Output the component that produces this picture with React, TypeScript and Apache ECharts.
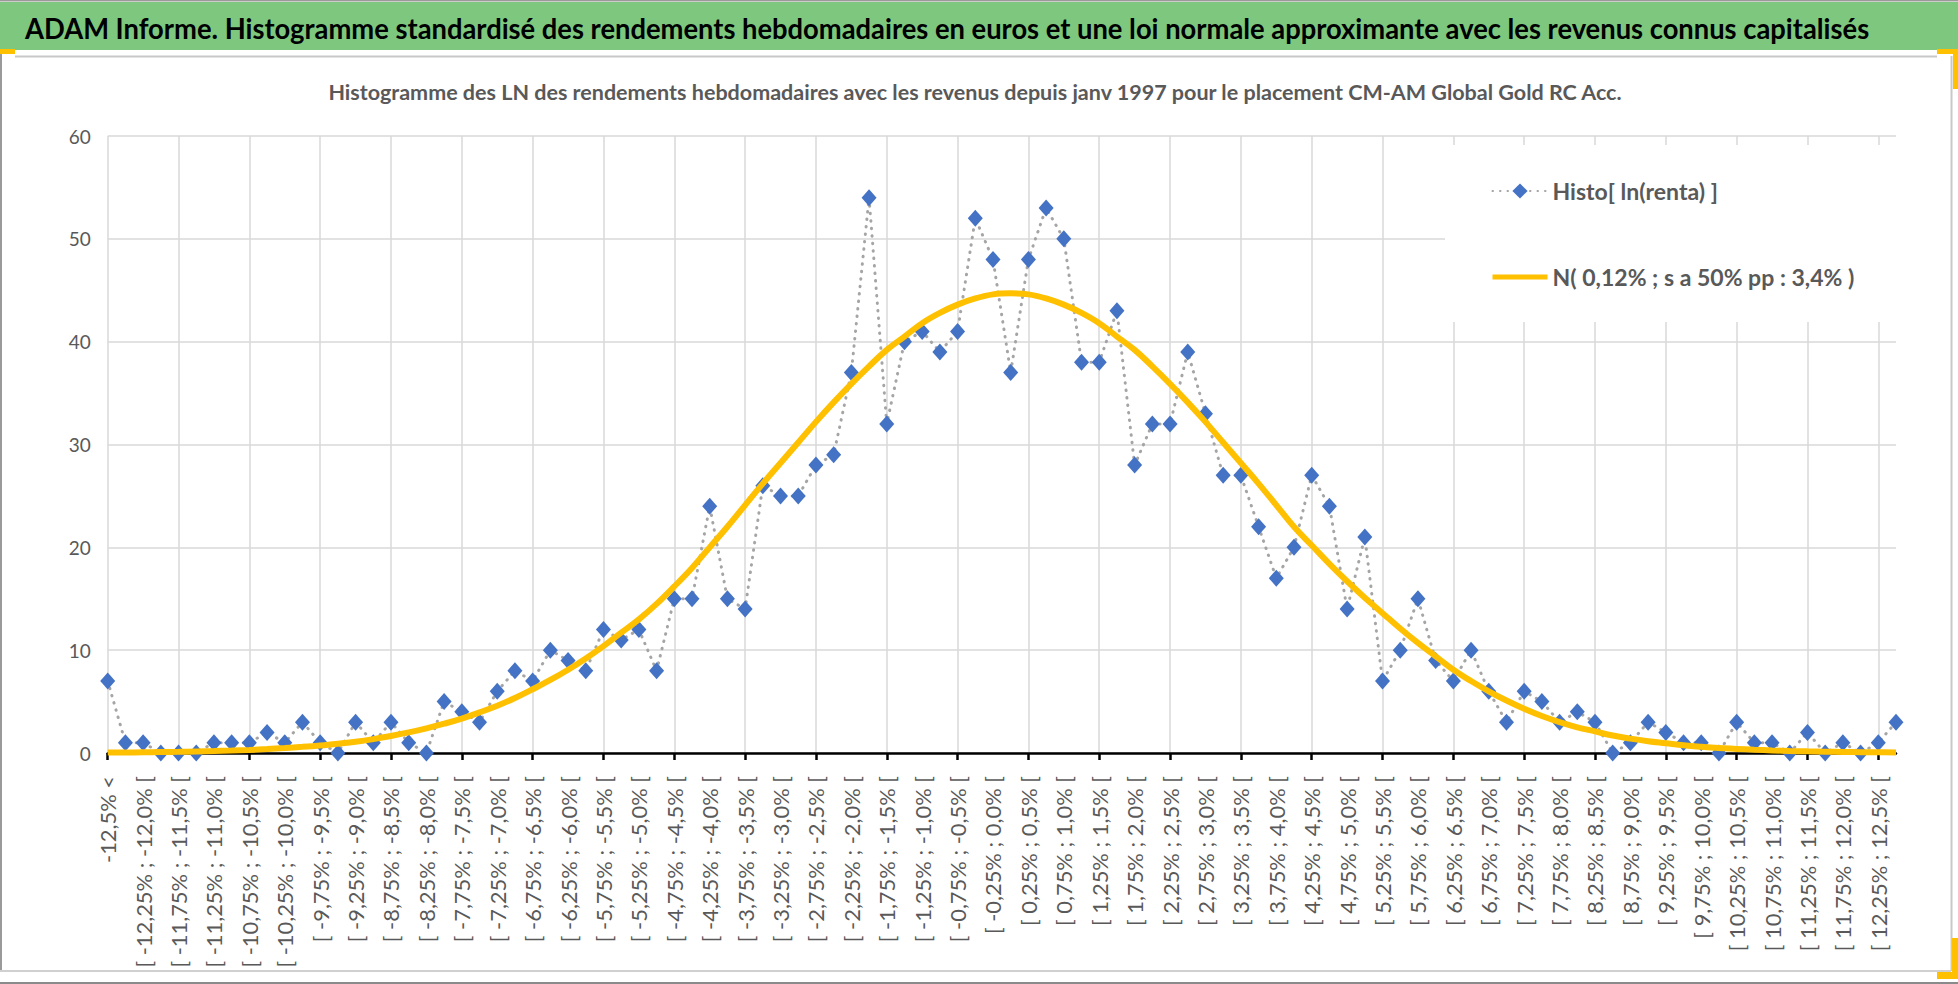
import React, { useEffect, useRef } from 'react';
import * as echarts from 'echarts';

const CHART_TITLE =
  'ADAM Informe. Histogramme standardisé des rendements hebdomadaires en euros et une loi normale approximante avec les revenus connus capitalisés';
const SUBTITLE =
  'Histogramme des LN des rendements hebdomadaires avec les revenus depuis janv 1997 pour le placement CM-AM Global Gold RC Acc.';
const SERIES_HISTO = 'Histo[ ln(renta) ]';
const SERIES_NORMAL = 'N( 0,12% ; s a 50% pp : 3,4% )';

// bins: lower bounds in hundredths of a percent
const BIN_FIRST_LOWER = -1250;
const BIN_STEP = 25;
const BIN_COUNT = 100;
const FIRST_LABEL = '-12,5% <';
const LAST_LABEL = '12,5% <=';

const Y_MIN = 0;
const Y_MAX = 60;
const Y_STEP = 10;

const HISTO_COUNTS = [
  7, 1, 1, 0, 0, 0, 1, 1, 1, 2,
  1, 3, 1, 0, 3, 1, 3, 1, 0, 5,
  4, 3, 6, 8, 7, 10, 9, 8, 12, 11,
  12, 8, 15, 15, 24, 15, 14, 26, 25, 25,
  28, 29, 37, 54, 32, 40, 41, 39, 41, 52,
  48, 37, 48, 53, 50, 38, 38, 43, 28, 32,
  32, 39, 33, 27, 27, 22, 17, 20, 27, 24,
  14, 21, 7, 10, 15, 9, 7, 10, 6, 3,
  6, 5, 3, 4, 3, 0, 1, 3, 2, 1,
  1, 0, 3, 1, 1, 0, 2, 0, 1, 0,
  1, 3,
];

const NORMAL_CURVE = [
  0.04, 0.05, 0.07, 0.09, 0.11, 0.15, 0.19, 0.24, 0.3, 0.38,
  0.48, 0.6, 0.74, 0.91, 1.1, 1.35, 1.65, 2.0, 2.4, 2.85,
  3.35, 3.95, 4.6, 5.35, 6.2, 7.1, 8.1, 9.2, 10.4, 11.7,
  13.0, 14.5, 16.2, 18.0, 20.0, 22.0, 24.1, 26.2, 28.2, 30.2,
  32.2, 34.1, 35.9, 37.6, 39.2, 40.5, 41.8, 42.8, 43.6, 44.2,
  44.6, 44.7, 44.6, 44.2, 43.6, 42.8, 41.8, 40.5, 39.2, 37.6,
  35.9, 34.1, 32.2, 30.2, 28.2, 26.2, 24.1, 22.0, 20.2, 18.4,
  16.7, 15.1, 13.6, 12.1, 10.7, 9.4, 8.1, 7.0, 6.0, 5.1,
  4.3, 3.6, 3.0, 2.5, 2.1, 1.7, 1.4, 1.15, 0.95, 0.75,
  0.6, 0.48, 0.4, 0.32, 0.25, 0.2, 0.16, 0.13, 0.1, 0.08,
  0.07, 0.06,
];

function fmtPct(h: number): string {
  let s = (h / 100).toFixed(2);
  if (s.endsWith('0')) s = s.slice(0, -1);
  return s.replace('.', ',') + '%';
}

function buildCategories(): string[] {
  const cats: string[] = [FIRST_LABEL];
  for (let k = 0; k < BIN_COUNT; k++) {
    const lo = BIN_FIRST_LOWER + BIN_STEP * k;
    const hi = lo + BIN_STEP;
    cats.push(`[ ${fmtPct(lo)} ; ${fmtPct(hi)} [`);
  }
  cats.push(LAST_LABEL);
  return cats;
}

const FONT = 'Lato, "Noto Sans", sans-serif';

function textWidth(text: string, font: string): number {
  const c = document.createElement('canvas').getContext('2d');
  if (!c) return 1;
  c.font = font;
  return c.measureText(text).width || 1;
}

export default function App() {
  const ref = useRef<HTMLDivElement>(null);

  useEffect(() => {
    if (!ref.current) return;
    const chart = echarts.init(ref.current, null, { renderer: 'svg' });

    const titleSize = 29;
    const titleScale = 1845 / textWidth(CHART_TITLE, `bold ${titleSize}px Lato`);
    const subSize = 21;
    const subScale = 1296 / textWidth(SUBTITLE, `bold ${subSize}px Lato`);
    const legendSize = Math.min(30, (28 * 302) / textWidth(SERIES_NORMAL, 'bold 28px Lato'));
    const xLabSize = Math.min(22, (20 * 150) / textWidth('[ 0,25% ; 0,5% [', '20px Lato'));

    const categories = buildCategories();

    const option: any = {
      animation: false,
      backgroundColor: '#ffffff',
      grid: { left: 107.7, right: 62, top: 136, bottom: 231, containLabel: false },
      legend: {
        orient: 'vertical',
        left: 1490,
        top: 176,
        itemWidth: 55,
        itemHeight: 19,
        itemGap: 56,
        padding: 0,
        z: 5,
        textStyle: {
          color: '#595959',
          fontWeight: 'bold',
          fontFamily: FONT,
          fontSize: legendSize,
          lineHeight: 30,
        },
        data: [
          { name: SERIES_HISTO },
          {
            name: SERIES_NORMAL,
            itemStyle: { color: 'rgba(0,0,0,0)', borderColor: 'rgba(0,0,0,0)', borderWidth: 0 },
            lineStyle: { color: '#FFC000', width: 5 },
          },
        ],
      },
      xAxis: {
        type: 'category',
        data: categories,
        boundaryGap: false,
        axisLine: { show: true, lineStyle: { color: '#000000', width: 2.5 } },
        axisTick: { show: true, interval: 3, length: 7, lineStyle: { color: '#000000', width: 2.5 } },
        axisLabel: {
          interval: 1,
          rotate: 90,
          margin: 23,
          color: '#595959',
          fontFamily: FONT,
          fontSize: xLabSize,
        },
        splitLine: { show: true, interval: 3, lineStyle: { color: '#d9d9d9', width: 1.5 } },
      },
      yAxis: {
        type: 'value',
        min: Y_MIN,
        max: Y_MAX,
        interval: Y_STEP,
        axisLine: { show: false },
        axisTick: { show: false },
        axisLabel: { color: '#595959', fontFamily: FONT, fontSize: 19, margin: 17 },
        splitLine: { show: true, lineStyle: { color: '#d9d9d9', width: 1.5 } },
      },
      series: [
        {
          name: SERIES_HISTO,
          type: 'line',
          data: HISTO_COUNTS,
          symbol: 'diamond',
          symbolSize: [15, 17],
          showAllSymbol: true,
          itemStyle: { color: '#4472C4' },
          lineStyle: { color: '#a5a5a5', width: 3, type: [0.5, 7], cap: 'round' },
          z: 2,
        },
        {
          name: SERIES_NORMAL,
          type: 'line',
          data: NORMAL_CURVE,
          smooth: 0.4,
          symbol: 'none',
          itemStyle: { color: '#FFC000' },
          lineStyle: { color: '#FFC000', width: 6 },
          z: 3,
        },
      ],
      graphic: {
        elements: [
          // frame lines
          { type: 'line', z: 10, shape: { x1: 0, y1: 0.7, x2: 1958, y2: 0.7 }, style: { stroke: '#9a9a9a', lineWidth: 1.5 } },
          { type: 'rect', z: 10, shape: { x: 0, y: 2, width: 1958, height: 48 }, style: { fill: '#7dc87e' } },
          { type: 'line', z: 10, shape: { x1: 15, y1: 56.5, x2: 1937, y2: 56.5 }, style: { stroke: '#c8c8c8', lineWidth: 2 } },
          { type: 'line', z: 10, shape: { x1: 1, y1: 50, x2: 1, y2: 971 }, style: { stroke: '#9a9a9a', lineWidth: 2 } },
          { type: 'line', z: 10, shape: { x1: 1951.5, y1: 56, x2: 1951.5, y2: 971 }, style: { stroke: '#c8c8c8', lineWidth: 2 } },
          { type: 'line', z: 10, shape: { x1: 0, y1: 971, x2: 1951, y2: 971 }, style: { stroke: '#d0d0d0', lineWidth: 2 } },
          { type: 'line', z: 10, shape: { x1: 0, y1: 983, x2: 1958, y2: 983 }, style: { stroke: '#8a8a8a', lineWidth: 2 } },
          { type: 'rect', z: 11, shape: { x: 0, y: 49, width: 15, height: 5 }, style: { fill: '#FFC000' } },
          { type: 'rect', z: 11, shape: { x: 1937, y: 49, width: 21, height: 5 }, style: { fill: '#FFC000' } },
          { type: 'rect', z: 11, shape: { x: 1953, y: 49, width: 5, height: 40 }, style: { fill: '#FFC000' } },
          { type: 'rect', z: 11, shape: { x: 1952, y: 938, width: 6, height: 41 }, style: { fill: '#FFC000' } },
          { type: 'rect', z: 11, shape: { x: 1937, y: 972, width: 21, height: 7 }, style: { fill: '#FFC000' } },
          // legend backdrop
          { type: 'rect', z: 1, shape: { x: 1445, y: 145, width: 452, height: 177 }, style: { fill: '#ffffff' } },
          // title
          {
            type: 'text',
            z: 12,
            x: 25,
            y: 28,
            scaleX: titleScale,
            style: {
              text: CHART_TITLE,
              fill: '#000000',
              fontFamily: FONT,
              fontWeight: 'bold',
              fontSize: titleSize,
              textAlign: 'left',
              align: 'left',
              textVerticalAlign: 'middle',
              verticalAlign: 'middle',
            },
          },
          {
            type: 'text',
            z: 12,
            x: 975,
            y: 92,
            scaleX: subScale,
            style: {
              text: SUBTITLE,
              fill: '#595959',
              fontFamily: FONT,
              fontWeight: 'bold',
              fontSize: subSize,
              textAlign: 'center',
              align: 'center',
              textVerticalAlign: 'middle',
              verticalAlign: 'middle',
            },
          },
        ],
      },
    };

    chart.setOption(option);
    return () => chart.dispose();
  }, []);

  return (
    <div
      ref={ref}
      style={{ position: 'fixed', left: 0, top: 0, width: 1958, height: 984, background: '#fff' }}
    />
  );
}
